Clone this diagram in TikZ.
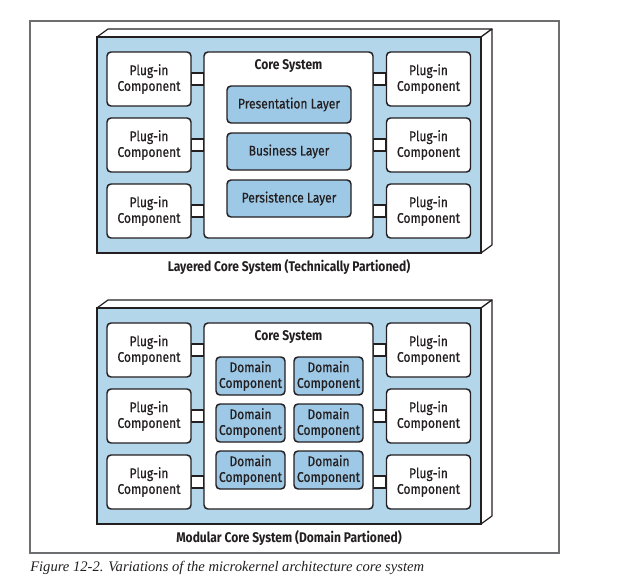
\documentclass[tikz,border=0pt]{standalone}
\usepackage{fontspec}
\setmainfont{Liberation Serif}
\newfontfamily\diafont[FakeStretch=0.86,FakeBold=0.6]{Fira Sans}
\newfontfamily\diabold[FakeStretch=0.86]{Fira Sans Bold}
\usetikzlibrary{calc}
\definecolor{panelblue}{HTML}{B4D6EB}
\definecolor{layerblue}{HTML}{9DC8E6}
\definecolor{ink}{HTML}{231F20}
\definecolor{framegray}{HTML}{6D6E70}
\pgfdeclarelayer{back}
\pgfdeclarelayer{mid}
\pgfsetlayers{back,mid,main}
\tikzset{
  every node/.style={font=\diafont\fontsize{10.5}{11.8}\selectfont, text=ink},
  plug/.style={draw=ink, line width=1.1pt, fill=white, rounded corners=3pt,
    minimum width=63pt, minimum height=40.5pt, inner sep=0pt, align=center},
  corebox/.style={draw=ink, line width=1.1pt, fill=white, rounded corners=3pt,
    minimum width=126.75pt, minimum height=139.5pt, inner sep=0pt},
  layerbox/.style={draw=ink, line width=1.1pt, fill=layerblue, rounded corners=3pt,
    minimum width=93pt, minimum height=27.75pt, inner sep=0pt},
  domainbox/.style={draw=ink, line width=1.1pt, fill=layerblue, rounded corners=3pt,
    minimum width=51.75pt, minimum height=28.5pt, inner sep=0pt, align=center},
  front/.style={draw=ink, line width=1.3pt, fill=panelblue},
  facet/.style={draw=ink, line width=0.9pt, fill=white, line join=round},
  conn/.style={draw=ink, line width=0.9pt, fill=white},
  title/.style={font=\diabold\fontsize{10.5}{11.8}\selectfont},
}
\begin{document}
\begin{tikzpicture}[x=0.75pt, y=-0.75pt]
\useasboundingbox (0,0) rectangle (629,582);
% outer frame
\draw[framegray, line width=0.8pt] (30,21) rectangle (559,553);
\node[anchor=base west, inner sep=0pt, font=\itshape\fontsize{10.95}{13}\selectfont] (caption) at (30,571) {Figure 12-2. Variations of the microkernel architecture core system};

% ---------- top panel ----------
\begin{pgfonlayer}{back}
\draw[facet] (97,37) -- (108,29) -- (492,29) -- (481,37) -- cycle;
\draw[facet] (481,37) -- (492,29) -- (492,245) -- (481,253) -- cycle;
\draw[front] (97,37) rectangle (481,253);
\end{pgfonlayer}
\node[plug] (tl1) at (149,79) {Plug-in\\Component};
\node[plug] (tl2) at (149,145) {Plug-in\\Component};
\node[plug] (tl3) at (149,211) {Plug-in\\Component};
\node[plug] (tr1) at (428.5,79) {Plug-in\\Component};
\node[plug] (tr2) at (428.5,145) {Plug-in\\Component};
\node[plug] (tr3) at (428.5,211) {Plug-in\\Component};
\node[corebox] (tcore) at (288.5,145) {};
\node[title] (ttitle) at (288.5,66) {Core System};
\node[layerbox] (pres) at (289,104.5) {Presentation Layer};
\node[layerbox] (bus) at (289,151.5) {Business Layer};
\node[layerbox] (pers) at (289,198.5) {Persistence Layer};
\node[title] (tlabel) at (289,267) {Layered Core System (Technically Partioned)};
\begin{pgfonlayer}{mid}
\foreach \i in {1,2,3}{
  \draw[conn] ($(tl\i.east)+(0,-6)$) rectangle ($(tcore.west|-tl\i.east)+(0,6)$);
  \draw[conn] ($(tr\i.west)+(0,-6)$) rectangle ($(tcore.east|-tr\i.west)+(0,6)$);
}
\end{pgfonlayer}

% ---------- bottom panel ----------
\begin{pgfonlayer}{back}
\draw[facet] (97,308) -- (108,300) -- (492,300) -- (481,308) -- cycle;
\draw[facet] (481,308) -- (492,300) -- (492,516) -- (481,524) -- cycle;
\draw[front] (97,308) rectangle (481,524);
\end{pgfonlayer}
\node[plug] (bl1) at (149,350) {Plug-in\\Component};
\node[plug] (bl2) at (149,416) {Plug-in\\Component};
\node[plug] (bl3) at (149,482) {Plug-in\\Component};
\node[plug] (br1) at (428.5,350) {Plug-in\\Component};
\node[plug] (br2) at (428.5,416) {Plug-in\\Component};
\node[plug] (br3) at (428.5,482) {Plug-in\\Component};
\node[corebox] (bcore) at (288.5,416) {};
\node[title] (btitle) at (288.5,337) {Core System};
\node[domainbox] (d11) at (250.5,376) {Domain\\Component};
\node[domainbox] (d12) at (328.5,376) {Domain\\Component};
\node[domainbox] (d21) at (250.5,423) {Domain\\Component};
\node[domainbox] (d22) at (328.5,423) {Domain\\Component};
\node[domainbox] (d31) at (250.5,470) {Domain\\Component};
\node[domainbox] (d32) at (328.5,470) {Domain\\Component};
\node[title] (blabel) at (289,538) {Modular Core System (Domain Partioned)};
\begin{pgfonlayer}{mid}
\foreach \i in {1,2,3}{
  \draw[conn] ($(bl\i.east)+(0,-6)$) rectangle ($(bcore.west|-bl\i.east)+(0,6)$);
  \draw[conn] ($(br\i.west)+(0,-6)$) rectangle ($(bcore.east|-br\i.west)+(0,6)$);
}
\end{pgfonlayer}
\end{tikzpicture}
\end{document}
